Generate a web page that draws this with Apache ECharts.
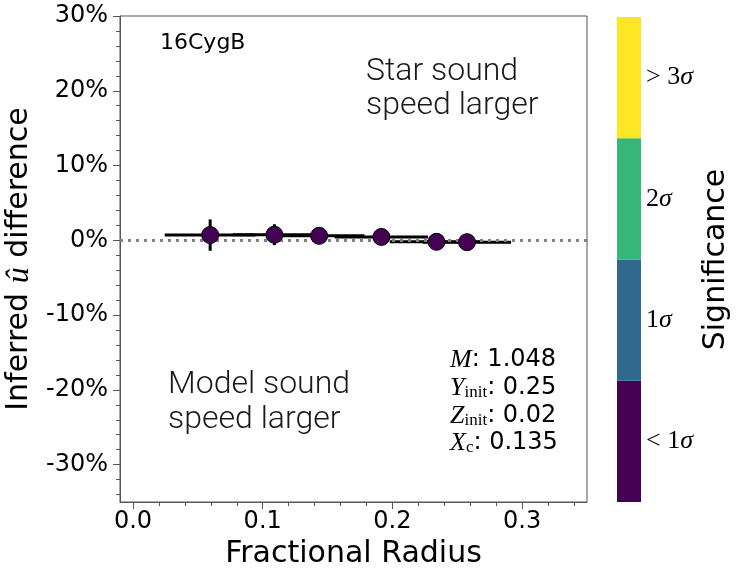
<!DOCTYPE html>
<html>
<head>
<meta charset="utf-8">
<script src="https://cdn.jsdelivr.net/npm/echarts@6/dist/echarts.min.js"></script>
<style>
  html, body { margin: 0; padding: 0; background: #fff; }
  #chart { width: 739px; height: 571px; }
</style>
</head>
<body>
<div id="chart"></div>
<script>
// ---- data ----
const radius = [0.0595, 0.109, 0.1435, 0.1915, 0.234, 0.2575];
const diffPct = [0.7, 0.75, 0.6, 0.45, -0.2, -0.25];
const radiusErr = [0.035, 0.032, 0.035, 0.036, 0.036, 0.034];
const diffErr = [2.1, 1.4, 0.3, 0.3, 0.3, 0.3];
const xTickValues = [0, 0.1, 0.2, 0.3];
const yTickValues = [-30, -20, -10, 0, 10, 20, 30];
const sigLevels = ['<1σ', '1σ', '2σ', '>3σ'];
const sigValue = [1, 1, 1, 1];

// ---- styles ----
const sigPalette = ['#440154', '#31688e', '#35b779', '#fde725'];
const SANS = '"DejaVu Sans", sans-serif';
const SERIF = '"Liberation Serif", "DejaVu Serif", serif';
const LIGHT = 'Roboto, "Noto Sans", sans-serif';
const AX = '#555';

const chart = echarts.init(document.getElementById('chart'), null, { renderer: 'canvas' });

const errData = radius.map((x, i) => [x, diffPct[i], radiusErr[i], diffErr[i]]);
const ptData = radius.map((x, i) => [x, diffPct[i]]);

function sigFmt(v) {
  const num = v.replace('σ', '').replace('<', '< ').replace('>', '> ');
  return '{n|' + num + '}{s|σ}';
}

const paramRich = {
  i: { fontFamily: SERIF, fontStyle: 'italic', fontSize: 26, color: '#000' },
  sub: { fontFamily: SERIF, fontSize: 17, color: '#000', verticalAlign: 'bottom', padding: [9, 0, 0, 0] },
  n: { fontFamily: SANS, fontSize: 24, color: '#000' }
};

const option = {
  animation: false,
  backgroundColor: '#fff',
  grid: [
    { left: 120, top: 16, width: 467, height: 486, show: true, borderColor: AX, borderWidth: 1,
      containLabel: false, outerBoundsMode: 'none' },
    { left: 617, top: 17, width: 24, height: 485, containLabel: false, outerBoundsMode: 'none' }
  ],
  xAxis: [
    {
      type: 'value', gridIndex: 0, min: -0.01, max: 0.35,
      name: 'Fractional Radius', nameLocation: 'middle', nameGap: 21,
      nameTextStyle: { fontFamily: SANS, fontSize: 30, color: '#000' },
      axisLine: { show: true, onZero: false, lineStyle: { color: AX, width: 1 } },
      axisTick: { show: true, length: 7, customValues: xTickValues, lineStyle: { color: AX, width: 1 } },
      minorTick: { show: true, splitNumber: 5, length: 4, lineStyle: { color: AX, width: 1 } },
      axisLabel: { customValues: xTickValues, margin: 8, fontFamily: SANS, fontSize: 24, color: '#000',
        formatter: v => v.toFixed(1) },
      splitLine: { show: false }
    },
    { type: 'value', gridIndex: 1, min: 0, max: 1, show: false }
  ],
  yAxis: [
    {
      type: 'value', gridIndex: 0, min: -35, max: 30,
      name: 'Inferred {u|û} difference', nameLocation: 'middle', nameGap: 71, nameRotate: 90,
      nameTextStyle: { fontFamily: SANS, fontSize: 30, color: '#000',
        rich: { u: { fontFamily: SERIF, fontStyle: 'italic', fontSize: 32, color: '#000' } } },
      axisLine: { show: true, onZero: false, lineStyle: { color: AX, width: 1 } },
      axisTick: { show: true, length: 7, customValues: yTickValues, lineStyle: { color: AX, width: 1 } },
      minorTick: { show: true, splitNumber: 5, length: 4, lineStyle: { color: AX, width: 1 } },
      axisLabel: { customValues: yTickValues, margin: 12, fontFamily: SANS, fontSize: 24, color: '#000',
        formatter: v => Math.round(v) + '%' },
      splitLine: { show: false }
    },
    {
      type: 'category', gridIndex: 1, data: sigLevels, position: 'right',
      name: 'Significance', nameLocation: 'middle', nameGap: 60, nameRotate: 90,
      nameTextStyle: { fontFamily: SANS, fontSize: 30, color: '#000' },
      axisLine: { show: false }, axisTick: { show: false }, splitLine: { show: false },
      axisLabel: {
        margin: 5, formatter: sigFmt,
        rich: {
          n: { fontFamily: SERIF, fontSize: 26, color: '#000' },
          s: { fontFamily: SERIF, fontStyle: 'italic', fontSize: 26, color: '#000' }
        }
      }
    }
  ],
  series: [
    {
      type: 'custom', xAxisIndex: 0, yAxisIndex: 0, z: 2,
      data: errData, encode: { x: 0, y: 1 },
      renderItem: function (params, api) {
        const x = api.value(0), y = api.value(1), xe = api.value(2), ye = api.value(3);
        const l = api.coord([x - xe, y]), r = api.coord([x + xe, y]);
        const t = api.coord([x, y + ye]), b = api.coord([x, y - ye]);
        return {
          type: 'group', children: [
            { type: 'line', shape: { x1: l[0], y1: l[1], x2: r[0], y2: r[1] }, style: { stroke: '#000', lineWidth: 3 } },
            { type: 'line', shape: { x1: t[0], y1: t[1], x2: b[0], y2: b[1] }, style: { stroke: '#000', lineWidth: 3 } }
          ]
        };
      }
    },
    {
      type: 'scatter', xAxisIndex: 0, yAxisIndex: 0, z: 4,
      data: ptData, symbol: 'circle', symbolSize: 17,
      itemStyle: { color: sigPalette[0], borderColor: '#000', borderWidth: 1, opacity: 1 },
      markLine: {
        silent: true, symbol: 'none', z: 3, animation: false,
        label: { show: false },
        lineStyle: { color: '#808080', width: 3, type: [3, 5], cap: 'butt' },
        data: [{ yAxis: 0 }]
      }
    },
    {
      type: 'bar', xAxisIndex: 1, yAxisIndex: 1, barWidth: '100%', barCategoryGap: '0%',
      data: sigValue.map((v, i) => ({ value: v, itemStyle: { color: sigPalette[i] } }))
    }
  ],
  graphic: [
    { type: 'text', left: 160, top: 32, style: { text: '16CygB', fontFamily: SANS, fontSize: 22, fill: '#000' } },
    { type: 'text', left: 366, top: 55, style: { text: 'Star sound\nspeed larger', fontFamily: LIGHT, fontWeight: 300, fontSize: 32, lineHeight: 34, fill: '#1a1a1a' } },
    { type: 'text', left: 168, top: 367, style: { text: 'Model sound\nspeed larger', fontFamily: LIGHT, fontWeight: 300, fontSize: 32, lineHeight: 35, fill: '#1a1a1a' } },
    { type: 'text', left: 450, top: 347, style: { text: '{i|M}{n|: 1.048}', rich: paramRich } },
    { type: 'text', left: 450, top: 375, style: { text: '{i|Y}{sub|init}{n|: 0.25}', rich: paramRich } },
    { type: 'text', left: 450, top: 403, style: { text: '{i|Z}{sub|init}{n|: 0.02}', rich: paramRich } },
    { type: 'text', left: 450, top: 430, style: { text: '{i|X}{sub|c}{n|: 0.135}', rich: paramRich } }
  ]
};

chart.setOption(option);
</script>
</body>
</html>
